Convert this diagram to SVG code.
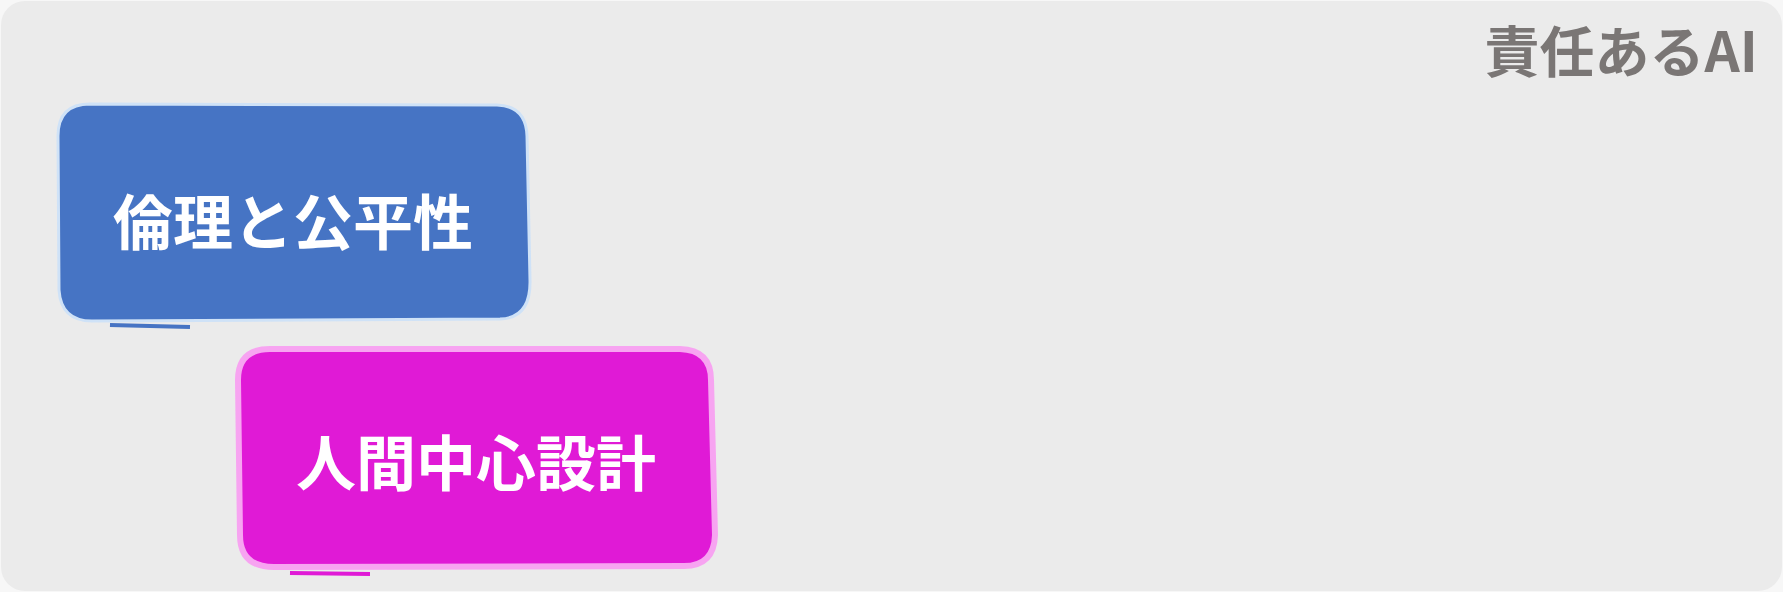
<svg xmlns="http://www.w3.org/2000/svg" width="1783" height="592" viewBox="0 0 1783 592">
<style>
.lbl{font-family:"Noto Sans CJK JP","Noto Sans",sans-serif;font-weight:700;fill:#ffffff;text-anchor:middle;dominant-baseline:central}
.title{font-family:"Noto Sans CJK JP","Noto Sans",sans-serif;font-weight:700;fill:#7a7675;text-anchor:end}
</style>
<rect x="0" y="0" width="1783" height="592" fill="#f7f7f7"/>
<rect x="1" y="1" width="1781" height="590" rx="24" fill="#ebebeb"/>
<g id="title"><text class="title" x="1758" y="72" font-size="55">責任あるAI</text></g>
<g id="connectors"></g>
<g id="node-ethics">
<path d="M90,104 L497,105 Q526,106 527,136 L530,280 Q531,318 500,319 L92,321 Q61,321 59,290 L58,136 Q58,104 90,104 Z" fill="#4674c4" stroke="#cfe2f7" stroke-width="3"/>
<path d="M110,325 L190,327" stroke="#4674c4" stroke-width="4" fill="none"/>
<text class="lbl" x="293" y="218" font-size="60">倫理と公平性</text>
</g>
<g id="node-human">
<path d="M270,349 L680,349 Q711,350 711,380 L715,535 Q714,566 684,566 L274,567 Q240,567 240,535 L238,380 Q238,349 270,349 Z" fill="#e01ad6" stroke="#f7a4f1" stroke-width="6"/>
<path d="M290,573 L370,574" stroke="#e01ad6" stroke-width="4" fill="none"/>
<text class="lbl" x="476" y="459" font-size="60">人間中心設計</text>
</g>
</svg>
